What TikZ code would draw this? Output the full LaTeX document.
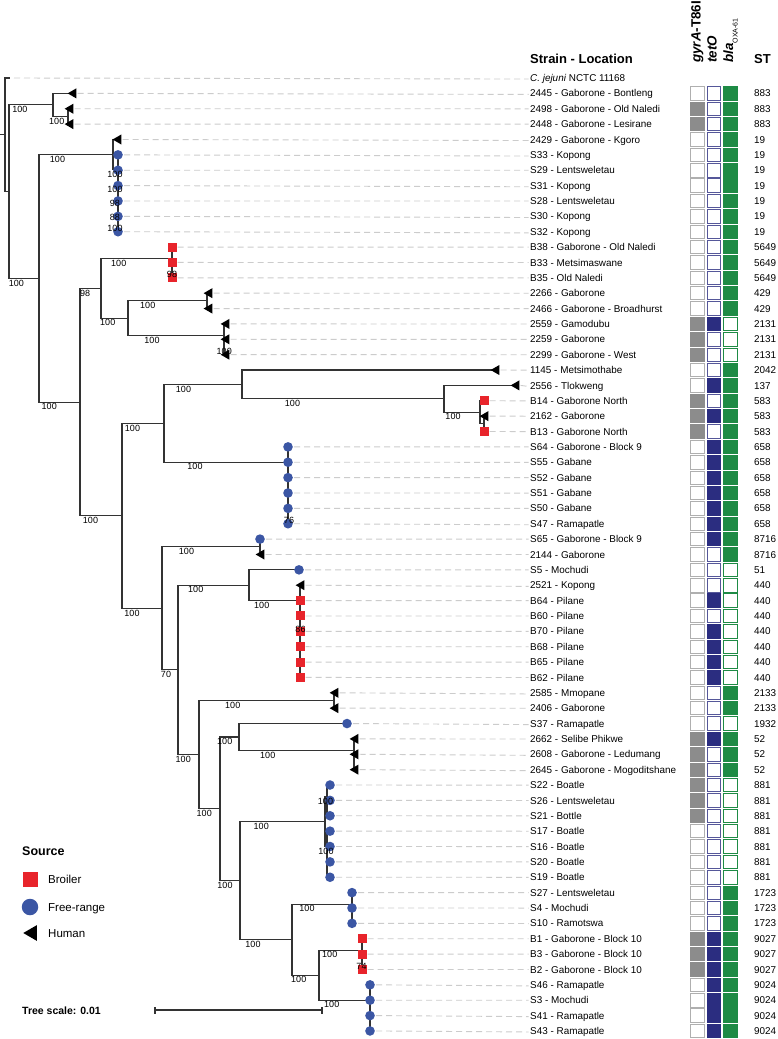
\documentclass[tikz,border=0pt]{standalone}
\usepackage{fontspec}
\setmainfont{Liberation Sans}
\usetikzlibrary{shapes.geometric}
\definecolor{cred}{HTML}{E8242B}
\definecolor{cblue}{HTML}{3B56A4}
\definecolor{cnavy}{HTML}{2B2D80}
\definecolor{cgreen}{HTML}{1E8B45}
\definecolor{cgray}{HTML}{8C8C8C}
\definecolor{cline}{HTML}{333333}
\definecolor{cdash}{HTML}{CCCCCC}
\def\leafdata{
2/72/t/{2445 - Gaborone - Bontleng}/883/0/0/1,
3/69/t/{2498 - Gaborone - Old Naledi}/883/1/0/1,
4/69/t/{2448 - Gaborone - Lesirane}/883/1/0/1,
5/117/t/{2429 - Gaborone - Kgoro}/19/0/0/1,
6/118/c/{S33 - Kopong}/19/0/0/1,
7/118/c/{S29 - Lentsweletau}/19/0/0/1,
8/118/c/{S31 - Kopong}/19/0/0/1,
9/118/c/{S28 - Lentsweletau}/19/0/0/1,
10/118/c/{S30 - Kopong}/19/0/0/1,
11/118/c/{S32 - Kopong}/19/0/0/1,
12/172/s/{B38 - Gaborone - Old Naledi}/5649/0/0/1,
13/172/s/{B33 - Metsimaswane}/5649/0/0/1,
14/172/s/{B35 - Old Naledi}/5649/0/0/1,
15/208/t/{2266 - Gaborone}/429/0/0/1,
16/208/t/{2466 - Gaborone - Broadhurst}/429/0/0/1,
17/225/t/{2559 - Gamodubu}/2131/1/1/0,
18/225/t/{2259 - Gaborone}/2131/1/0/0,
19/225/t/{2299 - Gaborone - West}/2131/1/0/0,
20/495/t/{1145 - Metsimothabe}/2042/0/0/1,
21/515/t/{2556 - Tlokweng}/137/0/1/1,
22/484/s/{B14 - Gaborone North}/583/1/0/1,
23/484/t/{2162 - Gaborone}/583/1/1/1,
24/484/s/{B13 - Gaborone North}/583/1/0/1,
25/288/c/{S64 - Gaborone - Block 9}/658/0/1/1,
26/288/c/{S55 - Gabane}/658/0/1/1,
27/288/c/{S52 - Gabane}/658/0/1/1,
28/288/c/{S51 - Gabane}/658/0/1/1,
29/288/c/{S50 - Gabane}/658/0/1/1,
30/288/c/{S47 - Ramapatle}/658/0/1/1,
31/260/c/{S65 - Gaborone - Block 9}/8716/0/1/1,
32/260/t/{2144 - Gaborone}/8716/0/0/1,
33/299/c/{S5 - Mochudi}/51/0/0/0,
34/300/t/{2521 - Kopong}/440/0/0/0,
35/300/s/{B64 - Pilane}/440/0/1/0,
36/300/s/{B60 - Pilane}/440/0/0/0,
37/300/s/{B70 - Pilane}/440/0/1/0,
38/300/s/{B68 - Pilane}/440/0/1/0,
39/300/s/{B65 - Pilane}/440/0/1/0,
40/300/s/{B62 - Pilane}/440/0/1/0,
41/334/t/{2585 - Mmopane}/2133/0/0/1,
42/334/t/{2406 - Gaborone}/2133/0/0/1,
43/347/c/{S37 - Ramapatle}/1932/0/0/0,
44/354/t/{2662 - Selibe Phikwe}/52/1/1/1,
45/354/t/{2608 - Gaborone - Ledumang}/52/1/0/1,
46/354/t/{2645 - Gaborone - Mogoditshane}/52/1/0/1,
47/330/c/{S22 - Boatle}/881/1/0/0,
48/330/c/{S26 - Lentsweletau}/881/1/0/0,
49/330/c/{S21 - Bottle}/881/1/0/0,
50/330/c/{S17 - Boatle}/881/0/0/0,
51/330/c/{S16 - Boatle}/881/0/0/0,
52/330/c/{S20 - Boatle}/881/0/0/0,
53/330/c/{S19 - Boatle}/881/0/0/0,
54/352/c/{S27 - Lentsweletau}/1723/0/0/1,
55/352/c/{S4 - Mochudi}/1723/0/0/1,
56/352/c/{S10 - Ramotswa}/1723/0/0/1,
57/362/s/{B1 - Gaborone - Block 10}/9027/1/1/1,
58/362/s/{B3 - Gaborone - Block 10}/9027/1/1/1,
59/362/s/{B2 - Gaborone - Block 10}/9027/1/1/1,
60/370/c/{S46 - Ramapatle}/9024/0/1/1,
61/370/c/{S3 - Mochudi}/9024/0/1/1,
62/370/c/{S41 - Ramapatle}/9024/0/1/1,
63/370/c/{S43 - Ramapatle}/9024/0/1/1}
\begin{document}
\begin{tikzpicture}[x=1pt,y=-1pt,
  br/.style={draw=cline, line width=1.1pt},
  dsh/.style={draw=cdash, line width=0.9pt, dash pattern=on 6pt off 4pt},
  lf/.style={anchor=base west, inner sep=0pt, font=\fontsize{9.9}{11}\selectfont},
  bs/.style={inner sep=0pt, font=\fontsize{9}{10}\selectfont},
  hdr/.style={anchor=base west, inner sep=0pt, font=\fontsize{13}{14}\selectfont\bfseries},
  hdrot/.style={anchor=base west, rotate=90, inner sep=0pt, font=\fontsize{13.4}{15}\selectfont\bfseries},
  mkc/.style={circle, fill=cblue, minimum size=9.6pt, inner sep=0pt},
  mks/.style={rectangle, fill=cred, minimum size=9pt, inner sep=0pt},
  mkt/.style={regular polygon, regular polygon sides=3, shape border rotate=90, fill=black, minimum size=11.6pt, inner sep=0pt, xshift=1.45pt},
  hm/.style={rectangle, minimum width=13.6pt, minimum height=13.4pt, inner sep=0pt, line width=0.8pt},
  hg0/.style={hm, draw=cgray!70, fill=white},
  hg1/.style={hm, draw=cgray, fill=cgray},
  ht0/.style={hm, draw=cnavy!80, fill=white},
  ht1/.style={hm, draw=cnavy, fill=cnavy},
  hb0/.style={hm, draw=cgreen, fill=white},
  hb1/.style={hm, draw=cgreen, fill=cgreen},
  lgl/.style={anchor=base west, inner sep=0pt, font=\fontsize{11.5}{13}\selectfont}
]
\useasboundingbox (0,0) rectangle (778,1039);
\fill[white] (0,0) rectangle (778,1039);

% leaf tip coordinates
\coordinate (L1) at (10,78);
\foreach \i/\tx/\mk/\lab/\st/\vg/\vt/\vb in \leafdata {
  \pgfmathsetmacro\yy{78+(\i-1)*15.37}
  \coordinate (L\i) at (\tx,\yy);
}

% internal nodes
\coordinate (R0) at (0,134.82);
\coordinate (R) at (5,134.82);
\coordinate (A) at (9,191.64);
\coordinate (N883) at (53,104.90);
\coordinate (N883s) at (68,116.43);
\coordinate (B) at (39,278.37);
\coordinate (N19) at (113,154.61);
\coordinate (N19s) at (118,169.74);
\coordinate (n2) at (118,184.63);
\coordinate (n3) at (118,199.04);
\coordinate (n4) at (118,212.49);
\coordinate (n5) at (118,224.02);
\coordinate (C) at (80,402.12);
\coordinate (D) at (101,288.38);
\coordinate (C5649) at (172,258.60);
\coordinate (C5649s) at (172,270.13);
\coordinate (E) at (128,318.16);
\coordinate (N429) at (207,300.87);
\coordinate (N2131) at (224,335.45);
\coordinate (N2131s) at (224,346.98);
\coordinate (F0) at (122,515.86);
\coordinate (F) at (164,423.35);
\coordinate (G) at (242,384.44);
\coordinate (G2) at (444,398.85);
\coordinate (N583) at (480,412.30);
\coordinate (N583s) at (484,423.83);
\coordinate (N658) at (288,462.25);
\coordinate (N658s) at (288,516.05);
\coordinate (K) at (162,608.36);
\coordinate (N8716) at (260,546.79);
\coordinate (M) at (178,669.93);
\coordinate (N440) at (249,585.21);
\coordinate (N440b) at (300,600.58);
\coordinate (P) at (199,754.65);
\coordinate (N2133) at (334,700.49);
\coordinate (Q) at (220,808.80);
\coordinate (N52) at (239,736.99);
\coordinate (N52b) at (354,750.44);
\coordinate (S) at (240,880.61);
\coordinate (N881) at (325,821.53);
\coordinate (A1) at (327,796.55);
\coordinate (A2) at (327,846.50);
\coordinate (T) at (292,939.69);
\coordinate (N1723) at (352,904.14);
\coordinate (U) at (319,975.23);
\coordinate (N9027) at (362,950.25);
\coordinate (N9024) at (370,1000.2);

% branches
\draw[br] (R0) -- (R);
\draw[br] (R) |- (L1) (R) |- (A);
\draw[br] (A) |- (N883) (A) |- (B);
\draw[br] (N883) |- (L2) (N883) |- (N883s);
\draw[br] (N883s) |- (L3) (N883s) |- (L4);
\draw[br] (B) |- (N19) (B) |- (C);
\draw[br] (N19) |- (L5) (N19) |- (N19s);
\draw[br] (N19s) |- (L6) (N19s) |- (n2);
\draw[br] (n2) |- (L7) (n2) |- (n3);
\draw[br] (n3) |- (L8) (n3) |- (n4);
\draw[br] (n4) |- (L9) (n4) |- (n5);
\draw[br] (n5) |- (L10) (n5) |- (L11);
\draw[br] (C) |- (D) (C) |- (F0);
\draw[br] (D) |- (C5649) (D) |- (E);
\draw[br] (C5649) |- (L12) (C5649) |- (C5649s);
\draw[br] (C5649s) |- (L13) (C5649s) |- (L14);
\draw[br] (E) |- (N429) (E) |- (N2131);
\draw[br] (N429) |- (L15) (N429) |- (L16);
\draw[br] (N2131) |- (L17) (N2131) |- (N2131s);
\draw[br] (N2131s) |- (L18) (N2131s) |- (L19);
\draw[br] (F0) |- (F) (F0) |- (K);
\draw[br] (F) |- (G) (F) |- (N658);
\draw[br] (G) |- (L20) (G) |- (G2);
\draw[br] (G2) |- (L21) (G2) |- (N583);
\draw[br] (N583) |- (L22) (N583) |- (N583s);
\draw[br] (N583s) |- (L23) (N583s) |- (L24);
\draw[br] (N658) |- (L25) (N658) |- (L26) (N658) |- (L27) (N658) |- (L28) (N658) |- (N658s);
\draw[br] (N658s) |- (L29) (N658s) |- (L30);
\draw[br] (K) |- (N8716) (K) |- (M);
\draw[br] (N8716) |- (L31) (N8716) |- (L32);
\draw[br] (M) |- (N440) (M) |- (P);
\draw[br] (N440) |- (L33) (N440) |- (N440b);
\draw[br] (N440b) |- (L34) (N440b) |- (L35) (N440b) |- (L36) (N440b) |- (L37) (N440b) |- (L38) (N440b) |- (L39) (N440b) |- (L40);
\draw[br] (P) |- (N2133) (P) |- (Q);
\draw[br] (N2133) |- (L41) (N2133) |- (L42);
\draw[br] (Q) |- (N52) (Q) |- (S);
\draw[br] (N52) |- (L43) (N52) |- (N52b);
\draw[br] (N52b) |- (L44) (N52b) |- (L45) (N52b) |- (L46);
\draw[br] (S) |- (N881) (S) |- (T);
\draw[br] (N881) |- (A1) (N881) |- (A2);
\draw[br] (A1) |- (L47) (A1) |- (L48) (A1) |- (L49);
\draw[br] (A2) |- (L50) (A2) |- (L51) (A2) |- (L52) (A2) |- (L53);
\draw[br] (T) |- (N1723) (T) |- (U);
\draw[br] (N1723) |- (L54) (N1723) |- (L55) (N1723) |- (L56);
\draw[br] (U) |- (N9027) (U) |- (N9024);
\draw[br] (N9027) |- (L57) (N9027) |- (L58) (N9027) |- (L59);
\draw[br] (N9024) |- (L60) (N9024) |- (L61) (N9024) |- (L62) (N9024) |- (L63);

% outgroup row
\node[lf] (t1) at (530,81.6) {\textit{C. jejuni} NCTC 11168};
\draw[dsh] ([xshift=4pt]L1) -- ([xshift=-1.5pt]t1.west);

% leaves: markers, labels, heatmap, ST
\foreach \i/\tx/\mk/\lab/\st/\vg/\vt/\vb in \leafdata {
  \pgfmathsetmacro\yy{78+(\i-1)*15.37}
  \pgfmathsetmacro\yb{\yy+3.6}
  \node[mk\mk] (m\i) at (L\i) {};
  \node[lf] (t\i) at (530,\yb) {\lab};
  \draw[dsh] ([xshift=1pt]m\i.east) -- ([xshift=-1.5pt]t\i.west);
  \node[hg\vg] (hg\i) at (697.5,\yy) {};
  \node[ht\vt] (ht\i) at (713.8,\yy) {};
  \node[hb\vb] (hb\i) at (730.1,\yy) {};
  \node[lf] (st\i) at (754,\yb) {\st};
}

% bootstrap values
\foreach \bx/\by/\bv [count=\k] in {
20/109.4/100, 56.75/120.9/100, 16.5/282.9/100, 57.5/159.1/100, 49.25/406.6/100,
115/174.2/100, 115/189.1/100, 115/203.5/98, 115/217/88, 115/228.5/100,
85.25/292.9/98, 118.75/263.1/100, 172/274.6/98, 107.75/322.7/100, 147.75/305.4/100,
152/340/100, 224.25/351.5/100, 90.5/520.4/100, 132.5/427.9/100, 183.5/388.9/100,
292.5/403.4/100, 453/416.8/100, 195/466.8/100, 289/520.5/76, 132/612.9/100,
186.5/551.3/100, 166/674.4/70, 195.75/589.7/100, 261.75/605.1/100, 300.5/629.5/86,
183.25/759.2/100, 232.75/705/100, 204.25/813.3/100, 224.75/741.5/100, 267.75/754.9/100,
225/885.1/100, 261.25/826/100, 325.5/801.1/100, 326/851/100, 253/944.2/100,
307/908.6/100, 298.75/979.7/100, 329.75/954.8/100, 361.5/966.3/74, 331.75/1004.7/100}
  \node[bs] (bs\k) at (\bx,\by) {\bv};

% headers
\node[hdr] (hstrain) at (530,63.3) {Strain - Location};
\node[hdr] (hst) at (754,63.3) {ST};
\node[hdrot] (hgyr) at (700.5,63) {\textit{gyrA}-T86I};
\node[hdrot] (htet) at (716.6,63) {\textit{tetO}};
\node[hdrot] (hbla) at (733,63) {\textit{bla}\raisebox{-4.6pt}{\fontsize{7}{7}\selectfont\mdseries OXA-61}};

% legend
\node[anchor=base west, inner sep=0pt, font=\fontsize{12.5}{14}\selectfont\bfseries] (lsrc) at (22,855.5) {Source};
\node[mks, minimum size=15pt] (lsq) at (30,879) {};
\node[lgl] (lbr) at (48,883) {Broiler};
\node[mkc, minimum size=16.5pt] (lci) at (30,907) {};
\node[lgl] (lfr) at (48,911) {Free-range};
\node[mkt, minimum size=18pt, xshift=0.8pt] (ltr) at (30,933) {};
\node[lgl] (lhu) at (48,937) {Human};

% tree scale
\node[anchor=base west, inner sep=0pt, font=\fontsize{10.5}{12}\selectfont\bfseries] (tsc) at (22,1014) {Tree scale: 0.01};
\coordinate (sb1) at (155,1010);
\coordinate (sb2) at (322,1010);
\draw[br] (sb1) -- (sb2);
\draw[br] ([yshift=-3.5pt]sb1) -- ([yshift=3.5pt]sb1);
\draw[br] ([yshift=-3.5pt]sb2) -- ([yshift=3.5pt]sb2);
\end{tikzpicture}
\end{document}
